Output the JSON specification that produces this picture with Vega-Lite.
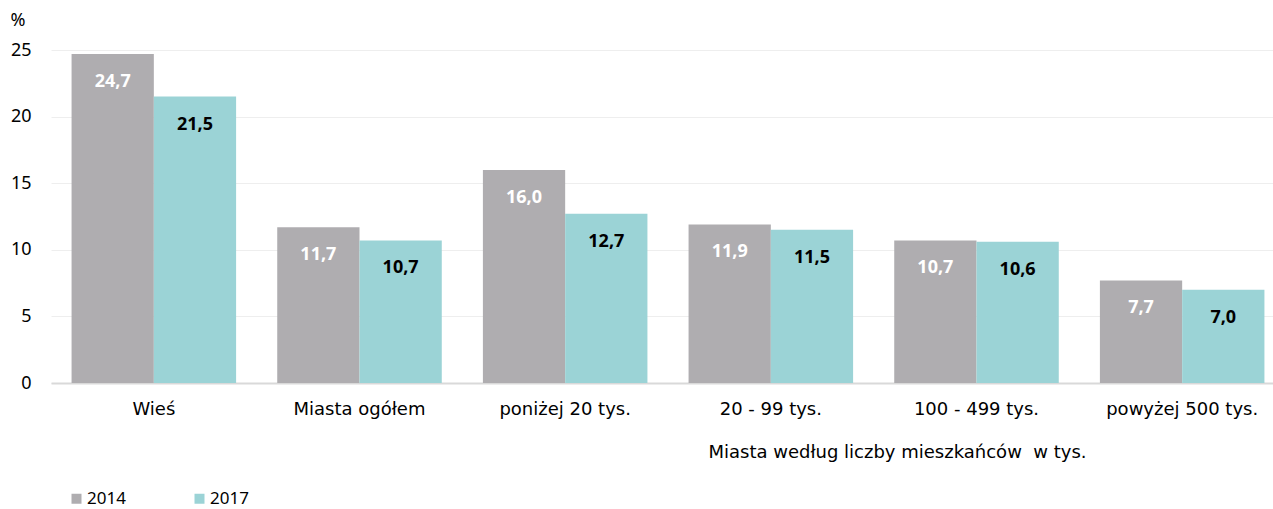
{
  "$schema": "https://vega.github.io/schema/vega-lite/v6.json",
  "autosize": {"type": "none"},
  "padding": {"left": 51, "top": 50, "right": 0, "bottom": 126},
  "width": 1234,
  "height": 333,
  "background": "white",
  "config": {
    "font": "Noto Sans",
    "view": {"stroke": null},
    "locale": {"number": {"decimal": ",", "thousands": " ", "grouping": [3], "currency": ["", " zł"]}}
  },
  "data": {
    "values": [
      {"cat": "Wieś", "year": "2014", "value": 24.7},
      {"cat": "Wieś", "year": "2017", "value": 21.5},
      {"cat": "Miasta ogółem", "year": "2014", "value": 11.7},
      {"cat": "Miasta ogółem", "year": "2017", "value": 10.7},
      {"cat": "poniżej 20 tys.", "year": "2014", "value": 16.0},
      {"cat": "poniżej 20 tys.", "year": "2017", "value": 12.7},
      {"cat": "20 - 99 tys.", "year": "2014", "value": 11.9},
      {"cat": "20 - 99 tys.", "year": "2017", "value": 11.5},
      {"cat": "100 - 499 tys.", "year": "2014", "value": 10.7},
      {"cat": "100 - 499 tys.", "year": "2017", "value": 10.6},
      {"cat": "powyżej 500 tys.", "year": "2014", "value": 7.7},
      {"cat": "powyżej 500 tys.", "year": "2017", "value": 7.0}
    ]
  },
  "encoding": {
    "x": {
      "field": "cat", "type": "nominal", "sort": null,
      "scale": {"paddingInner": 0.2, "paddingOuter": 0.1},
      "axis": {
        "title": "Miasta według liczby mieszkańców \u00a0w tys.",
        "titleFont": "DejaVu Sans", "titleFontSize": 18, "titleFontWeight": "normal", "titleColor": "#000000",
        "titleX": 846, "titleY": 69, "titleAlign": "center", "titleBaseline": "middle",
        "labelAngle": 0, "labelFont": "DejaVu Sans", "labelFontSize": 18, "labelColor": "#000000", "labelPadding": 26,
        "labelBaseline": "middle",
        "ticks": false, "tickSize": 0, "domainColor": "#d9d9d9", "domainWidth": 2, "grid": false
      }
    },
    "xOffset": {"field": "year", "type": "nominal", "scale": {"paddingInner": 0, "paddingOuter": 0}},
    "y": {
      "field": "value", "type": "quantitative",
      "scale": {"domain": [0, 25], "nice": false},
      "axis": {
        "values": [0, 5, 10, 15, 20, 25],
        "title": "%", "titleAngle": 0, "titleX": -41, "titleY": -30, "titleAlign": "left",
        "titleBaseline": "middle", "titleFontSize": 18, "titleFontWeight": "normal", "titleColor": "#000000",
        "labelFontSize": 18, "labelColor": "#000000", "labelPadding": 20,
        "domain": false, "ticks": false, "tickSize": 0,
        "gridColor": "#eeeeee", "gridWidth": 1
      }
    }
  },
  "layer": [
    {
      "mark": {"type": "bar"},
      "encoding": {
        "color": {
          "field": "year", "type": "nominal",
          "scale": {"domain": ["2014", "2017"], "range": ["#afadb0", "#9bd3d6"]},
          "legend": {
            "title": null, "orient": "none", "legendX": 17, "legendY": 440,
            "direction": "horizontal", "columns": 2, "columnPadding": 65,
            "symbolType": "square", "symbolSize": 100, "symbolStrokeWidth": 0,
            "labelFontSize": 17, "labelColor": "#000000", "labelOffset": 2
          }
        }
      }
    },
    {
      "mark": {"type": "text", "dy": 28, "fontSize": 18, "fontWeight": "bold", "baseline": "middle"},
      "encoding": {
        "text": {"field": "value", "type": "quantitative", "format": ".1f"},
        "color": {
          "field": "year", "type": "nominal",
          "scale": {"domain": ["2014", "2017"], "range": ["#ffffff", "#000000"]},
          "legend": null
        }
      }
    }
  ],
  "resolve": {"scale": {"color": "independent"}}
}
